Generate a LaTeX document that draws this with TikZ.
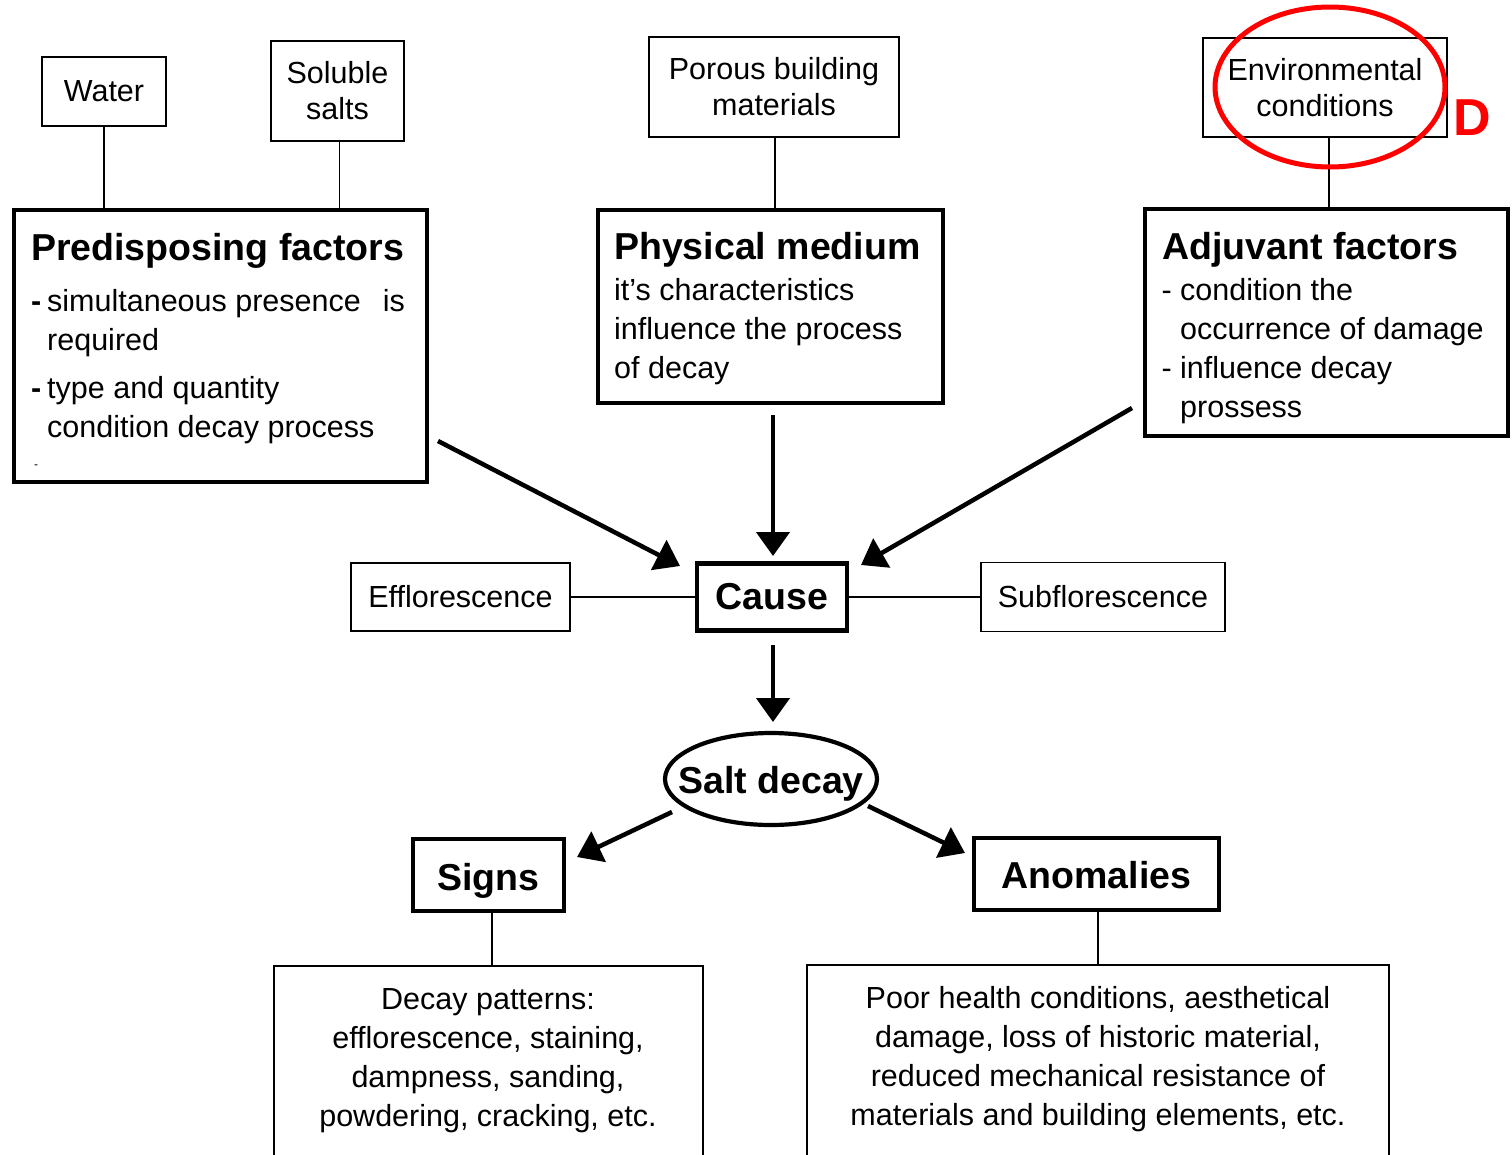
\documentclass[tikz,border=0pt]{standalone}
\usepackage{fontspec}
\setmainfont{Liberation Sans}
\usetikzlibrary{arrows.meta,shapes.geometric}
\begin{document}
\begin{tikzpicture}[x=1pt,y=-1pt,
  body/.style={font=\fontsize{30.5}{39}\selectfont},
  ttl/.style={font=\fontsize{37.5}{44}\selectfont\bfseries},
  thinbox/.style={draw,line width=1.8pt,inner sep=0pt,align=center,font=\fontsize{30.5}{36}\selectfont},
  thickbox/.style={draw,line width=4.2pt,inner sep=0pt,align=center,ttl},
  conn/.style={line width=1.8pt},
  arr/.style={line width=4.5pt,-{Triangle[length=24pt,width=33pt]}},
  txt/.style={inner sep=0pt,align=left,body},
  ctxt/.style={inner sep=0pt,align=center,body}]
\useasboundingbox (0,0) rectangle (1512,1154);
\fill[white] (0,0) rectangle (1512,1154);

% top small boxes
\node[thinbox,minimum width=124,minimum height=69] (water) at (104,91.5) {Water};
\node[thinbox,minimum width=133,minimum height=100] (salts) at (337.5,91) {Soluble\\salts};
\node[thinbox,minimum width=250,minimum height=100] (porous) at (774,87) {Porous building\\materials};
\node[thinbox,minimum width=244,minimum height=99] (env) at (1325,87.5) {Environmental\\conditions};

% big boxes
\node[thickbox,minimum width=413,minimum height=272] (pre) at (220.5,346) {};
\node[thickbox,minimum width=345,minimum height=193] (phys) at (770.5,306.5) {};
\node[thickbox,minimum width=363,minimum height=227] (adj) at (1326.5,322.5) {};

% big box texts (base anchor = baseline of last line)
\node[ttl,inner sep=0pt,anchor=base west] (preT) at (31,260) {Predisposing factors};
\node[txt,anchor=base west] (preB) at (47,437) {\llap{\textbf{-}\hspace{6pt}}simultaneous presence\hspace{22pt}is\\required\\[9pt]\llap{\textbf{-}\hspace{6pt}}type and quantity\\condition decay process};
\node[inner sep=0pt,anchor=base,font=\fontsize{12}{12}\selectfont] (preD) at (36,468) {-};

\node[ttl,inner sep=0pt,anchor=base west] (physT) at (614,259) {Physical medium};
\node[txt,anchor=base west] (physB) at (614,378) {it’s characteristics\\influence the process\\of decay};

\node[ttl,inner sep=0pt,anchor=base west] (adjT) at (1162,259) {Adjuvant factors};
\node[txt,anchor=base west] (adjB) at (1180,417) {\llap{- }condition the\\occurrence of damage\\\llap{- }influence decay\\prossess};

% connectors top
\draw[conn] (water.south) -- (water.south |- pre.north);
\draw[conn] ([xshift=2pt]salts.south) -- ([xshift=2pt]salts.south |- pre.north);
\draw[conn] ([xshift=1pt]porous.south) -- ([xshift=1pt]porous.south |- phys.north);
\draw[conn] ([xshift=4pt]env.south) -- ([xshift=4pt]env.south |- adj.north);

% middle row
\node[thickbox,minimum width=150,minimum height=67] (cause) at (772,597) {Cause};
\node[thinbox,minimum width=219,minimum height=68] (effl) at (460.5,597) {Efflorescence};
\node[thinbox,minimum width=244,minimum height=69] (subfl) at (1103,597) {Subflorescence};
\draw[conn] (effl.east) -- (cause.west);
\draw[conn] (cause.east) -- (subfl.west);

% arrows to cause
\coordinate (a1s) at (438,441);
\coordinate (a1e) at (680,566);
\coordinate (a2s) at (773,415);
\coordinate (a2e) at (773,556);
\coordinate (a3s) at (1132,408);
\coordinate (a3e) at (861,565);
\draw[arr] (a1s) -- (a1e);
\draw[arr] (a2s) -- (a2e);
\draw[arr] (a3s) -- (a3e);

% salt decay
\node[draw,ellipse,line width=4.2pt,minimum width=212,minimum height=92,inner sep=0pt] (salt) at (771,779) {};
\node[ttl,inner sep=0pt,anchor=base] (saltT) at (771,793) {Salt decay};
\coordinate (a4s) at (773,645);
\coordinate (a4e) at (773,722);
\draw[arr] (a4s) -- (a4e);

\node[thickbox,minimum width=151,minimum height=72] (signs) at (488.5,875) {};
\node[ttl,inner sep=0pt,anchor=base] (signsT) at (488.5,890) {Signs};
\node[thickbox,minimum width=245,minimum height=72] (anom) at (1096.5,874) {};
\node[ttl,inner sep=0pt,anchor=base] (anomT) at (1096.5,888) {Anomalies};
\coordinate (a5s) at (672,812);
\coordinate (a5e) at (577,857);
\coordinate (a6s) at (868,806);
\coordinate (a6e) at (965,853);
\draw[arr] (a5s) -- (a5e);
\draw[arr] (a6s) -- (a6e);

% bottom boxes
\node[draw,line width=1.8pt,minimum width=429,minimum height=234,inner sep=0pt] (bl) at (488.5,1083) {};
\node[draw,line width=1.8pt,minimum width=582,minimum height=235,inner sep=0pt] (br) at (1098,1082.5) {};
\draw[conn] ([xshift=3.5pt]signs.south) -- ([xshift=3.5pt]signs.south |- bl.north);
\draw[conn] ([xshift=1.5pt]anom.south) -- ([xshift=1.5pt]anom.south |- br.north);

\node[ctxt,anchor=base] (blT) at (488,1126) {Decay patterns:\\efflorescence, staining,\\dampness, sanding,\\powdering, cracking, etc.};
\node[ctxt,anchor=base] (brT) at (1098,1125) {Poor health conditions, aesthetical\\damage, loss of historic material,\\reduced mechanical resistance of\\materials and building elements, etc.};

% red annotation
\node[draw=red,ellipse,line width=5pt,minimum width=230,minimum height=160,inner sep=0pt] (mark) at (1330,87) {};
\node[red,inner sep=0pt,anchor=base west,font=\fontsize{52}{52}\selectfont\bfseries] (lblD) at (1453,135) {D};
\end{tikzpicture}
\end{document}
